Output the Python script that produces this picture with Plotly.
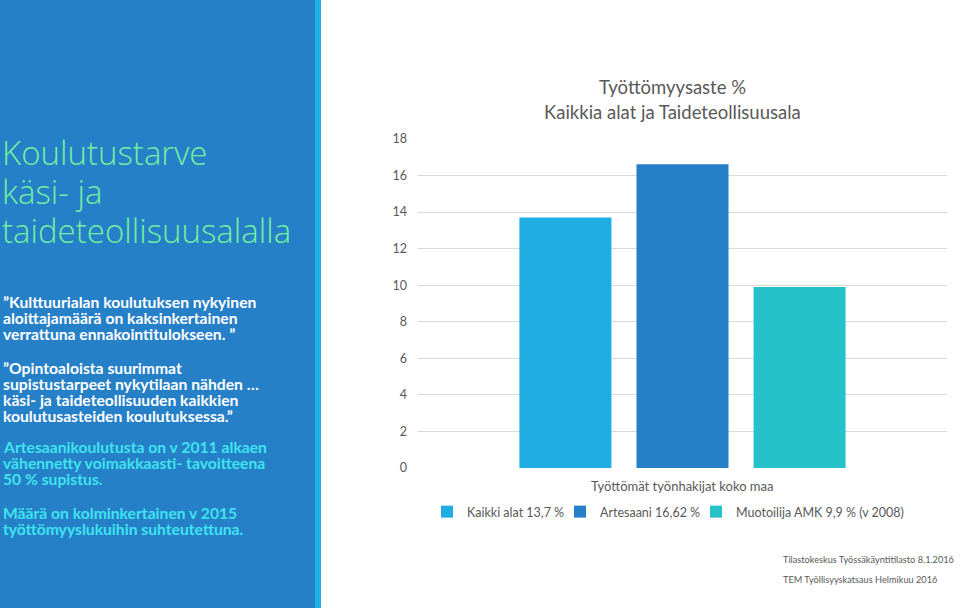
import plotly.graph_objects as go

W, H = 960, 608

category = ["Työttömät työnhakijat koko maa"]
series_names = ["Kaikki alat 13,7 %", "Artesaani 16,62 %", "Muotoilija AMK 9,9 % (v 2008)"]
series_values = [13.7, 16.62, 9.9]
series_colors = ["#1FADE4", "#2680C7", "#26C2CA"]
y_ticks = [0, 2, 4, 6, 8, 10, 12, 14, 16, 18]

title_lines = ["Työttömyysaste %", "Kaikkia alat ja Taideteollisuusala"]
left_title = ["Koulutustarve", "käsi- ja", "taideteollisuusalalla"]
paragraphs = [
    ["”Kulttuurialan koulutuksen nykyinen", "aloittajamäärä on kaksinkertainen", "verrattuna ennakointitulokseen. ”"],
    ["”Opintoaloista suurimmat", "supistustarpeet nykytilaan nähden …", "käsi- ja taideteollisuuden kaikkien", "koulutusasteiden koulutuksessa.”"],
    ["Artesaanikoulutusta on v 2011 alkaen", "vähennetty voimakkaasti- tavoitteena", "50 % supistus."],
    ["Määrä on kolminkertainen v 2015", "työttömyyslukuihin suhteutettuna."],
]
sources = ["Tilastokeskus Työssäkäyntitilasto 8.1.2016", "TEM Työllisyyskatsaus Helmikuu 2016"]

GRAY = "#595959"
FONT = "Lato"

def px(x):
    return x / W

def py(y):
    return 1 - y / H

legend_ids = ["legend", "legend2", "legend3"]
legend_x = [427, 560, 696]

fig = go.Figure()
for name, val, col, lid in zip(series_names, series_values, series_colors, legend_ids):
    fig.add_trace(go.Bar(x=category, y=[val], name=name, marker_color=col,
                         marker_line_width=0, hoverinfo="skip", legend=lid))

legend_common = dict(orientation="h", y=py(512), xanchor="left", yanchor="middle",
                     font=dict(family=FONT, size=12.5, color=GRAY),
                     itemwidth=30, bgcolor="rgba(0,0,0,0)")
legend_layout = {lid: dict(x=px(lx), **legend_common) for lid, lx in zip(legend_ids, legend_x)}

fig.update_layout(
    width=W, height=H,
    margin=dict(l=0, r=0, t=0, b=0, pad=0, autoexpand=False),
    paper_bgcolor="white", plot_bgcolor="white",
    barmode="group", bargap=0.336, bargroupgap=0.214,
    showlegend=True,
    xaxis=dict(domain=[px(418), px(947)], showticklabels=False, showgrid=False,
               zeroline=False, showline=False, fixedrange=True),
    yaxis=dict(domain=[py(468), py(139)], range=[0, 18], tickvals=y_ticks,
               showgrid=True, gridcolor="#D9D9D9", gridwidth=1, zeroline=False,
               showline=False, ticklabelstandoff=10,
               tickfont=dict(family=FONT, size=12.5, color=GRAY)),
    font=dict(family=FONT, color=GRAY),
    **legend_layout,
)

shapes = [
    dict(type="rect", xref="paper", yref="paper", x0=0, x1=px(315), y0=0, y1=1,
         fillcolor="#2680C7", line_width=0, layer="below"),
    dict(type="rect", xref="paper", yref="paper", x0=px(315), x1=px(321), y0=0, y1=1,
         fillcolor="#1FB0E6", line_width=0, layer="below"),
]
fig.update_layout(shapes=shapes)

ann = []
for t, yc in zip(title_lines, [87, 112]):
    ann.append(dict(text=t, x=px(672), y=py(yc), xref="paper", yref="paper",
                    xanchor="center", yanchor="middle", showarrow=False,
                    font=dict(family=FONT, size=18.5, color=GRAY)))
ann.append(dict(text=category[0], x=px(682), y=py(486), xref="paper", yref="paper",
                xanchor="center", yanchor="middle", showarrow=False,
                font=dict(family=FONT, size=13, color=GRAY)))
for t, yc in zip(left_title, [152, 191, 230]):
    ann.append(dict(text=t, x=px(0), y=py(yc), xref="paper", yref="paper",
                    xanchor="left", yanchor="middle", showarrow=False,
                    font=dict(family="Open Sans", size=33, color="#72EEA2", weight=300)))
para_y = [[302, 318, 334], [368, 384, 400, 416], [447, 463, 479], [513, 529]]
para_col = ["white", "white", "#3FE3F0", "#3FE3F0"]
for lines, ys, col in zip(paragraphs, para_y, para_col):
    for t, yc in zip(lines, ys):
        ann.append(dict(text="<b>" + t + "</b>", x=px(1), y=py(yc), xref="paper", yref="paper",
                        xanchor="left", yanchor="middle", showarrow=False,
                        font=dict(family=FONT, size=15.7, color=col)))
for t, yc in zip(sources, [559, 579]):
    ann.append(dict(text=t, x=px(781), y=py(yc), xref="paper", yref="paper",
                    xanchor="left", yanchor="middle", showarrow=False,
                    font=dict(family=FONT, size=9.2, color=GRAY)))
fig.update_layout(annotations=ann)

fig.write_html("out.html")
